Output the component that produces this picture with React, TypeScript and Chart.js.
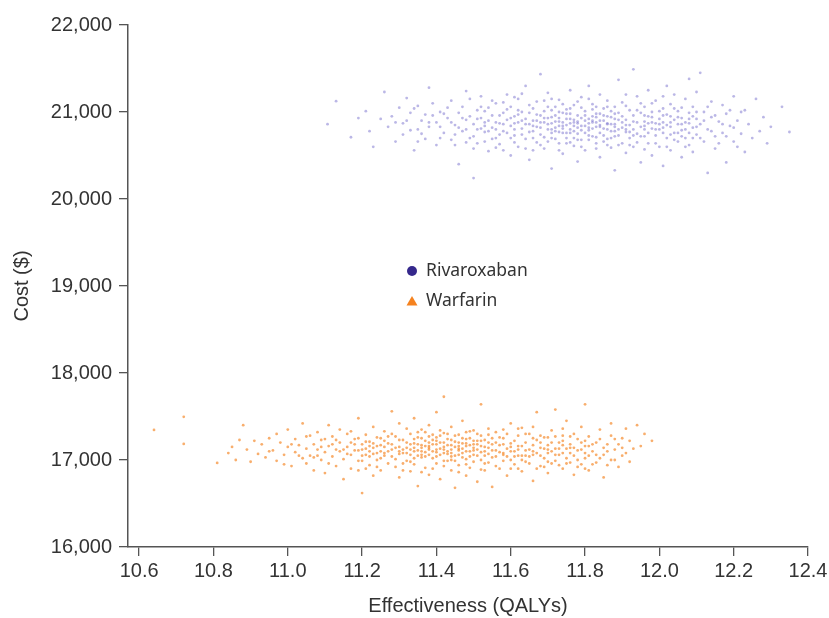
import React, { useEffect, useRef } from "react";
import { Chart, registerables } from "chart.js";

Chart.register(...registerables);

const seriesNames = ["Rivaroxaban", "Warfarin"];
const legendMarkers = ["circle", "triangle"];
const xTickValues = [10.6, 10.8, 11.0, 11.2, 11.4, 11.6, 11.8, 12.0, 12.2, 12.4];
const yTickValues = [16000, 17000, 18000, 19000, 20000, 21000, 22000];

const rivaroxabanPoints: [number, number][] = [
  [11.107,20860],[11.13,21125],[11.17,20710],[11.19,20930],[11.21,21010],[11.22,20780],[11.23,20600],[11.25,20920],[11.26,21230],[11.27,20830],
  [11.28,20950],[11.29,20660],[11.30,21050],[11.31,20870],[11.31,20740],[11.32,21160],[11.33,20990],[11.34,20560],[11.35,20800],[11.35,21070],
  [11.36,20900],[11.37,20690],[11.38,20830],[11.38,21280],[11.39,20960],[11.40,20620],[11.40,20880],[11.41,21000],[11.42,20760],[11.43,20930],
  [11.44,21130],[11.44,20680],[11.45,20850],[11.46,20990],[11.46,20400],[11.47,20780],[11.48,20910],[11.48,21240],[11.49,20700],[11.50,20240],
  [11.50,20860],[11.51,21020],[11.51,20640],[11.52,20930],[11.52,21180],[11.53,20770],[11.53,20880],[11.54,20550],[11.54,21050],[11.55,20820],
  [11.55,20960],[11.56,20700],[11.56,21100],[11.57,20870],[11.57,20630],[11.58,20990],[11.58,20780],[11.59,21200],[11.59,20910],[11.60,20500],
  [11.60,20840],[11.60,21060],[11.61,20730],[11.61,20950],[11.62,20880],[11.62,20600],[11.62,21150],[11.63,20810],[11.63,21000],[11.64,20690],
  [11.64,20920],[11.64,21300],[11.65,20770],[11.65,20860],[11.65,20450],[11.66,21040],[11.66,20900],[11.67,20650],[11.67,20830],[11.67,21120],
  [11.68,21435],[11.68,20960],[11.68,20740],[11.69,20880],[11.69,20580],[11.69,21010],[11.70,20800],[11.70,20930],[11.70,21220],[11.71,20700],
  [11.71,20870],[11.71,20350],[11.72,21060],[11.72,20820],[11.72,20960],[11.73,20640],[11.73,20890],[11.73,21140],[11.74,20760],[11.74,20990],
  [11.74,20520],[11.75,20850],[11.75,21030],[11.75,20700],[11.76,20920],[11.76,21250],[11.76,20800],[11.77,20610],[11.77,20880],[11.77,21080],
  [11.78,20750],[11.78,20960],[11.78,20430],[11.79,20840],[11.79,21170],[11.79,20680],[11.80,20900],[11.80,21010],[11.80,20560],[11.81,20790],
  [11.81,20870],[11.81,21300],[11.82,20720],[11.82,20950],[11.82,21090],[11.83,20640],[11.83,20830],[11.83,20980],[11.84,20760],[11.84,21200],
  [11.84,20480],[11.85,20900],[11.85,20810],[11.85,21040],[11.86,20690],[11.86,20870],[11.86,21130],[11.87,20590],[11.87,20940],[11.87,20780],
  [11.88,21060],[11.88,20860],[11.88,20330],[11.89,20730],[11.89,20990],[11.89,21370],[11.90,20820],[11.90,20640],[11.90,21110],[11.91,20910],
  [11.91,20770],[11.91,20530],[11.92,21020],[11.92,20850],[11.92,20700],[11.93,21490],[11.93,20960],[11.93,20600],[11.94,20880],[11.94,21180],
  [11.94,20750],[11.95,20990],[11.95,20830],[11.95,20420],
  [11.72,20780],[11.74,20840],[11.76,20870],[11.78,20820],[11.80,20760],[11.82,20880],[11.84,20900],[11.86,20800],[11.79,20930],[11.77,20780],
  [11.81,20820],[11.83,20710],[11.85,20960],[11.73,20930],[11.71,20800],[11.75,20920],[11.87,20860],[11.89,20910],[11.70,20860],[11.88,20780],
  [11.96,20720],[11.96,21060],[11.96,20890],[11.97,20640],[11.97,20950],[11.97,21250],[11.98,20810],[11.98,20500],[11.98,21000],[11.99,20870],
  [11.99,20730],[11.99,21130],[12.00,20920],[12.00,20600],[12.00,20800],[12.01,21040],[12.01,20380],[12.01,20880],[12.02,20700],[12.02,20970],
  [12.02,21300],[12.03,20830],[12.03,20560],[12.03,21090],[12.04,20910],[12.04,20760],[12.04,21200],[12.05,20660],[12.05,20860],[12.05,21010],
  [12.06,20480],[12.06,20930],[12.06,20790],[12.07,21150],[12.07,20700],[12.07,20880],[12.08,20990],[12.08,20620],[12.08,21380],[12.09,20820],
  [12.09,20540],[12.09,21060],[12.10,20920],[12.10,20740],[12.10,21230],
  [12.11,21450],[12.11,20860],[12.12,20660],[12.12,21000],[12.13,20800],[12.13,20300],[12.14,20940],[12.14,21120],[12.15,20720],[12.15,20580],
  [12.16,20890],[12.17,21080],[12.17,20760],[12.18,20420],[12.18,20980],[12.19,20840],[12.20,21180],[12.20,20660],[12.21,20900],[12.22,20750],
  [12.23,21020],[12.23,20540],[12.24,20860],[12.25,20700],[12.26,21150],[12.27,20780],[12.28,20940],[12.29,20640],[12.30,20830],[12.33,21060],
  [12.35,20770],
  [11.46,20820],[11.47,21060],[11.49,20950],[11.50,20720],[11.52,20810],[11.53,21010],[11.55,20690],[11.56,20880],[11.58,21110],[11.59,20760],
  [11.61,20870],[11.62,21020],[11.63,20740],[11.64,20860],[11.66,20780],[11.67,20970],[11.68,20880],[11.69,20710],[11.70,21060],[11.71,20940],
  [11.72,20690],[11.73,21000],[11.74,20810],[11.75,20760],[11.76,20980],[11.77,20700],[11.78,20890],[11.79,21050],[11.80,20840],[11.81,20680],
  [11.82,20810],[11.83,21060],[11.84,20850],[11.85,20730],[11.86,20950],[11.87,21010],[11.88,20920],[11.89,20800],[11.90,20950],[11.91,20850],
  [11.92,20770],[11.93,20890],[11.94,21020],[11.95,20720],[11.96,20800],[11.97,20870],[11.98,20940],[11.99,20800],[12.00,21010],[12.01,20760],
  [12.02,20850],[12.03,20950],[12.04,20680],[12.05,20940],[12.06,21050],[12.07,20800],[12.08,20870],[12.09,20950],[12.10,20830],[11.65,20990],
  [11.60,20930],[11.57,20740],[11.54,20900],[11.51,20800],[11.48,20650],[11.44,20880],[11.41,20830],[11.37,20970],[11.33,20790],[11.29,20880],
  [11.71,21150],[11.76,20650],[11.81,21150],[11.86,20620],[11.91,21200],[11.96,20570],[12.01,21180],[11.66,20560],[11.61,21170],[11.56,20590],
  [11.74,20880],[11.77,20910],[11.79,20790],[11.82,20900],[11.84,20830],[11.73,20770],[11.78,20870],[11.83,20940],[11.88,20830],[11.69,20930],
  [11.32,20900],[11.34,21040],[11.36,20750],[11.39,21100],[11.41,20700],[11.43,21050],[11.45,20620],[11.47,20930],[11.49,21150],[11.50,20580],
  [11.52,21060],[11.53,20660],[11.54,20780],[11.55,21130],[11.57,20960],[11.58,20560],[11.59,21030],[11.60,20700],[11.61,20800],[11.62,20970],
  [11.63,21210],[11.64,20580],[11.65,21080],[11.66,20700],[11.67,20900],[11.68,20620],[11.69,21130],[11.70,20660],[11.71,21020],[11.72,20890],
  [11.73,20560],[11.74,21090],[11.75,20640],[11.76,21040],[11.77,20840],[11.78,21120],[11.79,20600],[11.80,20960],[11.81,20730],[11.82,21030],
  [11.83,20580],[11.84,20980],[11.85,20660],[11.86,21060],[11.87,20700],[11.88,20980],[11.89,20620],[11.90,20880],[11.91,21070],[11.92,20620],
  [11.93,20800],[11.94,20650],[11.95,21100],[11.96,20960],[11.97,20760],[11.98,21100],[11.99,20640],[12.00,20860],[12.01,20960],[12.02,20600],
  [12.03,20740],[12.04,21040],[12.05,20760],[12.06,20860],[12.07,20600],[12.08,20760],[12.09,20700],[12.10,21000],[12.11,20700],[12.12,20900],
  [12.13,21060],[12.14,20780],[12.15,20960],[12.16,20640],[12.17,20860],[12.18,20720],[12.19,21020],[12.20,20820],[12.21,20600],[12.22,21000],
  [11.35,20660],[11.38,20880],[11.42,20980],[11.45,20740],[11.48,20800],[11.51,20920],[11.53,20840],[11.56,20800],[11.58,20860],[11.61,20650],
  [11.63,20900],[11.66,20840],[11.68,20820],[11.71,20760],[11.73,20840],[11.76,20760],[11.78,20680],[11.81,20920],[11.83,20880],[11.86,20860],
  [11.88,20720],[11.91,20800],[11.93,20730],[11.96,20840],[11.98,20880],[12.01,20820],[12.03,20880],[12.06,20720],[12.08,20920],[11.75,20980]
];

const warfarinPoints: [number, number][] = [
  [10.64,17346],[10.72,17496],[10.72,17185],[10.81,16966],[10.84,17080],[10.85,17150],[10.86,17000],[10.87,17230],[10.88,17400],[10.89,17120],
  [10.90,16980],[10.91,17220],[10.92,17070],[10.93,17180],[10.94,17030],[10.95,17250],[10.96,17110],[10.97,16990],[10.98,17200],[10.99,17060],
  [11.00,17150],[11.00,17350],[11.01,16930],[11.02,17240],[11.02,17090],[11.03,17170],[11.04,17020],[11.04,17420],[11.05,16960],[11.05,17130],
  [11.06,17280],[11.06,17050],[11.07,17180],[11.07,16880],[11.08,17320],[11.08,17120],[11.09,17000],[11.09,17230],[11.10,17090],[11.10,16850],
  [11.11,17400],[11.11,17160],[11.12,17040],[11.12,17270],[11.13,16930],[11.13,17120],[11.14,17350],[11.14,17200],[11.15,17010],[11.15,16780],
  [11.16,17150],[11.16,17300],[11.17,17060],[11.17,16900],[11.18,17240],[11.18,17110],[11.19,17480],[11.19,16990],[11.20,17180],[11.20,17050],
  [11.20,16620],[11.21,17290],[11.21,17130],[11.22,16940],[11.22,17210],[11.23,17070],[11.23,17380],[11.23,16820],[11.24,17160],[11.24,17000],
  [11.25,17250],[11.25,17100],[11.25,16880],[11.26,17330],[11.26,17050],[11.27,17190],[11.27,16960],[11.28,17560],[11.28,17120],[11.29,17010],
  [11.29,17270],[11.30,16800],[11.30,17150],[11.30,17420],[11.31,17080],
  [11.31,17230],[11.32,16990],[11.32,17140],[11.33,17300],[11.33,16870],[11.33,17060],[11.34,17190],[11.34,17480],[11.34,16950],[11.35,17110],
  [11.35,17260],[11.35,16700],[11.36,17030],[11.36,17170],[11.36,17350],[11.37,16910],[11.37,17090],[11.37,17220],[11.38,17140],[11.38,16830],
  [11.38,17400],[11.39,17020],[11.39,17180],[11.39,17290],[11.40,16960],[11.40,17120],[11.40,17550],[11.41,17200],[11.41,17060],[11.41,16780],
  [11.42,17727],[11.42,17150],[11.42,17310],[11.43,16990],[11.43,17100],[11.43,17240],[11.44,16880],[11.44,17170],[11.44,17380],[11.45,17050],
  [11.45,17210],[11.45,16680],[11.46,17130],[11.46,17290],[11.46,16940],[11.47,17080],[11.47,17190],[11.47,17450],[11.48,17010],[11.48,17160],
  [11.48,16820],[11.49,17250],[11.49,17100],[11.49,16910],[11.50,17340],[11.50,17060],[11.50,17180],[11.51,16750],[11.51,17220],[11.51,17120],
  [11.52,17000],[11.52,17280],[11.52,17640],[11.53,17150],[11.53,16880],[11.53,17050],[11.54,17200],[11.54,17360],[11.54,16970],[11.55,17110],
  [11.55,16690],[11.55,17250],
  [11.36,17140],[11.38,17200],[11.40,17180],[11.42,17080],[11.44,17120],[11.46,17200],[11.48,17240],[11.37,17160],[11.39,17100],[11.41,17130],
  [11.43,17170],[11.45,17150],[11.47,17030],[11.49,17170],[11.33,17180],[11.35,17050],[11.31,17120],[11.51,17180],[11.53,17230],[11.29,17140],
  [11.27,17100],[11.25,17170],[11.23,17140],[11.21,17060],[11.19,17110],
  [11.56,17040],[11.56,17320],[11.57,17170],[11.57,16900],[11.58,17080],[11.58,17250],[11.59,16820],[11.59,17130],[11.60,17000],[11.60,17190],
  [11.60,17420],[11.61,17100],[11.61,16950],[11.62,17280],[11.62,17160],[11.63,16870],[11.63,17050],[11.63,17370],[11.64,17200],[11.64,16980],
  [11.65,17120],[11.65,17300],[11.66,16760],[11.66,17060],[11.67,17230],[11.67,17550],[11.68,17140],[11.68,16930],[11.69,17020],[11.69,17260],
  [11.70,17170],[11.70,16850],[11.71,17100],[11.71,17340],[11.72,17580],[11.72,16990],[11.73,17200],[11.73,17060],[11.74,16900],[11.74,17280],
  [11.75,17130],[11.75,17450],[11.76,16970],[11.76,17180],[11.77,17050],[11.77,16830],[11.78,17240],[11.78,17110],[11.79,16950],[11.79,17380],
  [11.80,17160],[11.80,17020],
  [11.81,17270],[11.81,16880],[11.82,17100],[11.83,17200],[11.83,16970],[11.84,17350],[11.85,17060],[11.85,16800],[11.86,17180],[11.87,17000],
  [11.87,17420],[11.88,17120],[11.89,16920],[11.90,17250],[11.90,17050],[11.91,17360],[11.92,16980],[11.93,17130],[11.94,17400],[11.95,17160],
  [11.96,17300],[11.98,17220],[11.80,17640],
  [11.16,17070],[11.18,17180],[11.20,16990],[11.22,17100],[11.24,17260],[11.26,17150],[11.28,17040],[11.30,17230],[11.32,17080],[11.34,17020],
  [11.36,17250],[11.38,17060],[11.40,17260],[11.42,16990],[11.44,17040],[11.46,17060],[11.48,17320],[11.50,17110],[11.52,17160],[11.54,17070],
  [11.56,17200],[11.58,16990],[11.60,17100],[11.62,17050],[11.64,17110],[11.66,17170],[11.68,17050],[11.70,17260],[11.72,17130],[11.74,17170],
  [11.76,17080],[11.78,17000],[11.80,17220],[11.82,17180],[11.84,17020],[11.86,17100],[11.88,17240],[11.90,17140],[11.14,17100],[11.12,17180],
  [11.10,17240],[11.08,17050],[11.17,17330],[11.21,16900],[11.25,17020],[11.29,16920],[11.33,17120],[11.37,17320],[11.41,17280],[11.45,16990],
  [11.49,17040],[11.53,16960],[11.57,17260],[11.61,17220],[11.65,16960],[11.69,17130],[11.73,16940],[11.77,17300],[11.81,17050],[11.35,17180],
  [11.39,17230],[11.43,17070],[11.47,17250],[11.51,17050],[11.55,17180],[11.59,17040],[11.63,17160],[11.67,17080],[11.71,17200],[11.75,17020],
  [11.40,17090],[11.44,17230],[11.38,17120],[11.42,17200],[11.46,17110],[11.36,17060],[11.48,17100],[11.50,17220],[11.52,17090],[11.34,17240],
  [11.27,17270],[11.31,16960],[11.19,17250],[11.23,17190],[11.58,17350],[11.62,16900],[11.66,17380],[11.70,16980],[11.74,17080],[11.79,17120],
  [10.95,17100],[10.97,17300],[10.99,16950],[11.01,17180],[11.03,17050],[11.05,17270],[11.07,17030],[11.09,17150],[11.11,16960],[11.13,17230],
  [11.15,17120],[11.17,17200],[11.19,16880],[11.21,17210],[11.22,17040],[11.24,16920],[11.26,17220],[11.28,17300],[11.30,17070],[11.31,16880],
  [11.32,17360],[11.33,16980],[11.34,17100],[11.35,17320],[11.36,16860],[11.37,17040],[11.38,17270],[11.39,16900],[11.40,17040],[11.41,17340],
  [11.42,16930],[11.43,17300],[11.44,17000],[11.45,17280],[11.46,16860],[11.47,17130],[11.48,16950],[11.49,17330],[11.50,16980],[11.51,17300],
  [11.52,16890],[11.53,17100],[11.54,17290],[11.55,17030],[11.56,16930],[11.57,17090],[11.58,17180],[11.59,17300],[11.60,16900],[11.61,17040],
  [11.62,17360],[11.63,17000],[11.64,17300],[11.65,17040],[11.66,17250],[11.67,16900],[11.68,17280],[11.69,16920],[11.70,17080],[11.71,16960],
  [11.72,17270],[11.73,17130],[11.74,17360],[11.75,16960],[11.76,17270],[11.77,17140],[11.78,16920],[11.79,17200],[11.80,16900],[11.81,17160],
  [11.82,16950],[11.83,17060],[11.84,17240],[11.85,17140],[11.86,16940],[11.87,17280],[11.88,17000],[11.89,17180],[11.91,17080],[11.92,17220],
  [11.20,17120],[11.24,17080],[11.28,17180],[11.32,17200],[11.36,17100],[11.40,17220],[11.44,17080],[11.48,17190],[11.52,17220],[11.56,17110],
  [11.60,17150],[11.64,17050],[11.68,17200],[11.72,17060],[11.76,17140],[11.80,17080],[11.38,17160],[11.42,17120],[11.46,17160],[11.50,17140],
  [11.34,17140],[11.30,17100],[11.26,17080],[11.22,17160],[11.54,17140],[11.58,17060],[11.62,17120],[11.66,17100],[11.70,17120],[11.74,17220]
];

const legendPlugin = {
  id: "insideLegend",
  afterDraw(chart: any) {
    const { ctx, chartArea } = chart;
    const colors = ["#35288c", "#f5821f"];
    const x0 = chartArea.left + 284;
    const y0 = chartArea.top + 246;
    ctx.save();
    chart.data.datasets.forEach((ds: any, i: number) => {
      const cy = y0 + i * 30;
      ctx.fillStyle = colors[i];
      ctx.beginPath();
      if (legendMarkers[i] === "circle") {
        ctx.arc(x0, cy, 5, 0, Math.PI * 2);
      } else {
        ctx.moveTo(x0, cy - 5);
        ctx.lineTo(x0 + 5.5, cy + 4.5);
        ctx.lineTo(x0 - 5.5, cy + 4.5);
        ctx.closePath();
      }
      ctx.fill();
      ctx.fillStyle = "#333333";
      ctx.font = '17.5px "Noto Sans"';
      ctx.textBaseline = "middle";
      ctx.textAlign = "left";
      ctx.fillText(ds.label, x0 + 14, cy);
    });
    ctx.restore();
  },
};

const arialFamily = '"Liberation Sans", Arial, sans-serif';

export default function App() {
  const canvasRef = useRef<HTMLCanvasElement | null>(null);

  useEffect(() => {
    if (!canvasRef.current) return;
    const axisColor = "#555555";
    const chart = new Chart(canvasRef.current, {
      type: "scatter",
      data: {
        datasets: [
          {
            label: seriesNames[0],
            data: rivaroxabanPoints.map(([x, y]) => ({ x, y })),
            backgroundColor: "rgba(120,112,205,0.5)",
            borderWidth: 0,
            pointRadius: 1.4,
          },
          {
            label: seriesNames[1],
            data: warfarinPoints.map(([x, y]) => ({ x, y })),
            backgroundColor: "rgba(245,135,40,0.68)",
            borderWidth: 0,
            pointRadius: 1.4,
          },
        ],
      },
      options: {
        animation: false,
        responsive: false,
        maintainAspectRatio: false,
        layout: { padding: { left: 0, right: 21, top: 25, bottom: 0 } },
        plugins: {
          legend: { display: false },
          tooltip: { enabled: false },
        },
        scales: {
          x: {
            type: "linear",
            min: 10.57,
            max: 12.4,
            afterBuildTicks: (s: any) => {
              s.ticks = xTickValues.map((v) => ({ value: v }));
            },
            afterFit: (s: any) => {
              s.height = 71;
              s.paddingLeft = 0;
              s.paddingRight = 0;
            },
            ticks: {
              autoSkip: false,
              maxRotation: 0,
              padding: 3,
              color: "#333333",
              font: { family: arialFamily, size: 20 },
              callback: (v: any) => Number(v).toFixed(1),
            },
            grid: { drawOnChartArea: false, drawTicks: true, tickLength: 9, color: axisColor, lineWidth: 1.3 },
            border: { display: true, color: axisColor, width: 1.5 },
            title: {
              display: true,
              text: "Effectiveness (QALYs)",
              color: "#333333",
              font: { family: arialFamily, size: 20 },
              padding: { top: 0, bottom: 0 },
            },
          },
          y: {
            type: "linear",
            min: 16000,
            max: 22000,
            afterBuildTicks: (s: any) => {
              s.ticks = yTickValues.map((v) => ({ value: v }));
            },
            afterFit: (s: any) => {
              s.width = 128;
              s.paddingTop = 0;
              s.paddingBottom = 0;
            },
            ticks: {
              autoSkip: false,
              padding: 7,
              color: "#333333",
              font: { family: arialFamily, size: 20 },
              callback: (v: any) => Number(v).toLocaleString("en-US"),
            },
            grid: { drawOnChartArea: false, drawTicks: true, tickLength: 9, color: axisColor, lineWidth: 1.3 },
            border: { display: true, color: axisColor, width: 1.5 },
            title: {
              display: true,
              text: "Cost ($)",
              color: "#333333",
              font: { family: arialFamily, size: 20 },
              padding: { top: 10, bottom: 0 },
            },
          },
        },
      },
      plugins: [legendPlugin],
    });
    const fontsToLoad = ['20px "Liberation Sans"', '17.5px "Noto Sans"'];
    let alive = true;
    if (document.fonts && document.fonts.load) {
      Promise.all(fontsToLoad.map((f) => document.fonts.load(f).catch(() => null))).then(() => {
        if (alive) chart.update();
      });
    }
    return () => {
      alive = false;
      chart.destroy();
    };
  }, []);

  return (
    <div style={{ position: "fixed", left: 0, top: 0, width: 829, height: 618, background: "#fff" }}>
      <canvas ref={canvasRef} width={829} height={618} style={{ display: "block", width: 829, height: 618 }} />
    </div>
  );
}
